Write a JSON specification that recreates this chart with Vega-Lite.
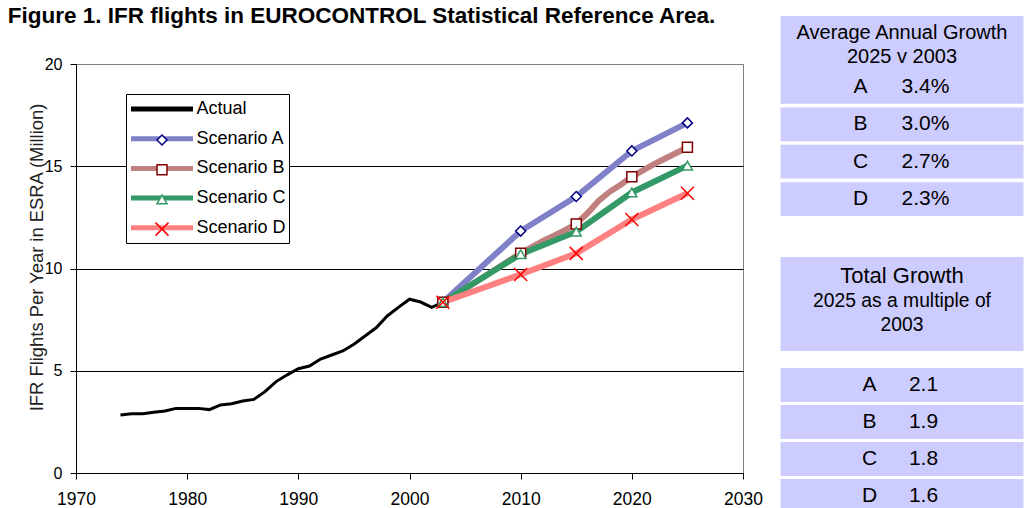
{
  "$schema": "https://vega.github.io/schema/vega-lite/v6.json",
  "background": "white",
  "padding": {"left": 7, "top": 5, "right": 0, "bottom": 0},
  "spacing": 17.5,
  "datasets": {
    "flights": [
      {"year": 1974, "series": "Actual", "value": 2.84},
      {"year": 1975, "series": "Actual", "value": 2.9},
      {"year": 1976, "series": "Actual", "value": 2.9},
      {"year": 1977, "series": "Actual", "value": 2.97},
      {"year": 1978, "series": "Actual", "value": 3.03},
      {"year": 1979, "series": "Actual", "value": 3.16},
      {"year": 1980, "series": "Actual", "value": 3.16},
      {"year": 1981, "series": "Actual", "value": 3.16},
      {"year": 1982, "series": "Actual", "value": 3.1},
      {"year": 1983, "series": "Actual", "value": 3.33},
      {"year": 1984, "series": "Actual", "value": 3.39},
      {"year": 1985, "series": "Actual", "value": 3.52},
      {"year": 1986, "series": "Actual", "value": 3.6},
      {"year": 1987, "series": "Actual", "value": 3.98},
      {"year": 1988, "series": "Actual", "value": 4.47},
      {"year": 1989, "series": "Actual", "value": 4.8},
      {"year": 1990, "series": "Actual", "value": 5.1},
      {"year": 1991, "series": "Actual", "value": 5.23},
      {"year": 1992, "series": "Actual", "value": 5.57},
      {"year": 1993, "series": "Actual", "value": 5.77},
      {"year": 1994, "series": "Actual", "value": 5.97},
      {"year": 1995, "series": "Actual", "value": 6.3},
      {"year": 1996, "series": "Actual", "value": 6.7},
      {"year": 1997, "series": "Actual", "value": 7.1},
      {"year": 1998, "series": "Actual", "value": 7.68},
      {"year": 1999, "series": "Actual", "value": 8.1},
      {"year": 2000, "series": "Actual", "value": 8.5},
      {"year": 2001, "series": "Actual", "value": 8.36},
      {"year": 2002, "series": "Actual", "value": 8.1},
      {"year": 2003, "series": "Actual", "value": 8.35},
      {"year": 2003, "series": "Scenario A", "value": 8.35},
      {"year": 2010, "series": "Scenario A", "value": 11.83},
      {"year": 2015, "series": "Scenario A", "value": 13.52},
      {"year": 2020, "series": "Scenario A", "value": 15.75},
      {"year": 2025, "series": "Scenario A", "value": 17.12},
      {"year": 2003, "series": "Scenario B", "value": 8.35},
      {"year": 2004, "series": "Scenario B", "value": 8.68},
      {"year": 2005, "series": "Scenario B", "value": 9.0},
      {"year": 2006, "series": "Scenario B", "value": 9.35},
      {"year": 2007, "series": "Scenario B", "value": 9.7},
      {"year": 2008, "series": "Scenario B", "value": 10.05},
      {"year": 2009, "series": "Scenario B", "value": 10.4},
      {"year": 2010, "series": "Scenario B", "value": 10.74},
      {"year": 2011, "series": "Scenario B", "value": 11.05},
      {"year": 2012, "series": "Scenario B", "value": 11.35},
      {"year": 2013, "series": "Scenario B", "value": 11.6},
      {"year": 2014, "series": "Scenario B", "value": 11.88},
      {"year": 2015, "series": "Scenario B", "value": 12.18},
      {"year": 2016, "series": "Scenario B", "value": 12.7},
      {"year": 2017, "series": "Scenario B", "value": 13.3},
      {"year": 2018, "series": "Scenario B", "value": 13.75},
      {"year": 2019, "series": "Scenario B", "value": 14.1},
      {"year": 2020, "series": "Scenario B", "value": 14.49},
      {"year": 2021, "series": "Scenario B", "value": 14.8},
      {"year": 2022, "series": "Scenario B", "value": 15.1},
      {"year": 2023, "series": "Scenario B", "value": 15.38},
      {"year": 2024, "series": "Scenario B", "value": 15.65},
      {"year": 2025, "series": "Scenario B", "value": 15.93},
      {"year": 2003, "series": "Scenario C", "value": 8.35},
      {"year": 2010, "series": "Scenario C", "value": 10.7},
      {"year": 2015, "series": "Scenario C", "value": 11.8},
      {"year": 2020, "series": "Scenario C", "value": 13.72},
      {"year": 2025, "series": "Scenario C", "value": 15.03},
      {"year": 2003, "series": "Scenario D", "value": 8.35},
      {"year": 2010, "series": "Scenario D", "value": 9.71},
      {"year": 2015, "series": "Scenario D", "value": 10.74},
      {"year": 2020, "series": "Scenario D", "value": 12.4},
      {"year": 2025, "series": "Scenario D", "value": 13.68}
    ],
    "growth": [
      {"scenario": "A", "figure": "3.4%"},
      {"scenario": "B", "figure": "3.0%"},
      {"scenario": "C", "figure": "2.7%"},
      {"scenario": "D", "figure": "2.3%"}
    ],
    "multiple": [
      {"scenario": "A", "figure": "2.1"},
      {"scenario": "B", "figure": "1.9"},
      {"scenario": "C", "figure": "1.8"},
      {"scenario": "D", "figure": "1.6"}
    ],
    "head1": [
      {"line": 1, "text": "Average Annual Growth"},
      {"line": 2, "text": "2025 v 2003"}
    ],
    "head2": [
      {"line": 1, "text": "Total Growth"},
      {"line": 2, "text": "2025 as a multiple of"},
      {"line": 3, "text": "2003"}
    ]
  },
  "hconcat": [
    {
      "spacing": 0,
      "bounds": "flush",
      "vconcat": [
        {
          "width": 667, "height": 48,
          "data": {"values": [{}]},
          "mark": "text",
          "encoding": {"text": {"value": ""}},
          "title": {
            "text": "Figure 1. IFR flights in EUROCONTROL Statistical Reference Area.",
            "anchor": "start",
            "frame": "group",
            "fontSize": 22.5,
            "fontWeight": "bold",
            "font": "Liberation Sans",
            "color": "black",
            "dx": -68.3,
            "offset": -11.6
          }
        },
        {
          "width": 667,
          "height": 409,
          "data": {"name": "flights"},
          "view": {"stroke": "#808080", "strokeWidth": 1},
          "encoding": {
            "x": {
              "field": "year",
              "type": "quantitative",
              "scale": {"domain": [1970, 2030], "nice": false, "zero": false},
              "axis": {
                "values": [1970, 1980, 1990, 2000, 2010, 2020, 2030],
                "format": "d",
                "title": null,
                "grid": false,
                "labelFlush": false,
                "labelFontSize": 17.5,
                "labelPadding": 11.5,
                "tickSize": 6
              }
            },
            "y": {
              "field": "value",
              "type": "quantitative",
              "scale": {"domain": [0, 20], "nice": false},
              "axis": {
                "values": [0, 5, 10, 15, 20],
                "title": "IFR Flights Per Year in ESRA (Million)",
                "grid": true,
                "gridColor": {"condition": {"test": "datum.value === 20", "value": "#808080"}, "value": "black"},
                "gridWidth": 1,
                "labelFontSize": 16,
                "labelPadding": 8,
                "tickSize": 6,
                "titleFontSize": 18.4,
                "titleFontWeight": "normal",
                "titleColor": "#222222",
                "titlePadding": -2,
                "titleY": 193
              }
            }
          },
          "layer": [
            {
              "transform": [{"filter": "datum.series === 'Actual'"}],
              "mark": {"type": "line", "strokeWidth": 3},
              "encoding": {
                "stroke": {
                  "field": "series",
                  "type": "nominal",
                  "scale": {
                    "domain": ["Actual", "Scenario A", "Scenario B", "Scenario C", "Scenario D"],
                    "range": ["#000000", "#8080c8", "#c08080", "#339966", "#ff8080"]
                  },
                  "legend": {
                    "title": null, "orient": "none", "legendX": 50, "legendY": 78,
                    "padding": 2.5, "clipHeight": 25, "rowPadding": 4.7,
                    "symbolType": "stroke", "symbolSize": 3844, "symbolStrokeWidth": 5,
                    "labelOffset": 1, "labelFontSize": 18, "labelColor": "black",
                    "strokeColor": "black", "fillColor": "white", "zindex": 1
                  }
                }
              }
            },
            {
              "transform": [{"filter": "datum.series !== 'Actual'"}],
              "mark": {"type": "line", "strokeWidth": 6},
              "encoding": {
                "stroke": {
                  "field": "series",
                  "type": "nominal",
                  "scale": {
                    "domain": ["Actual", "Scenario A", "Scenario B", "Scenario C", "Scenario D"],
                    "range": ["#000000", "#8080c8", "#c08080", "#339966", "#ff8080"]
                  },
                  "legend": {
                    "title": null, "orient": "none", "legendX": 50, "legendY": 78,
                    "padding": 2.5, "clipHeight": 25, "rowPadding": 4.7,
                    "symbolType": "stroke", "symbolSize": 3844, "symbolStrokeWidth": 5,
                    "labelOffset": 1, "labelFontSize": 18, "labelColor": "black",
                    "strokeColor": "black", "fillColor": "white", "zindex": 1
                  }
                }
              }
            },
            {
              "transform": [{"filter": "datum.series !== 'Actual' && indexof([2003, 2010, 2015, 2020, 2025], datum.year) >= 0"}],
              "mark": {"type": "point", "filled": false, "fill": "white", "strokeWidth": 1.5, "size": 100, "opacity": 1},
              "encoding": {
                "color": {
                  "field": "series",
                  "type": "nominal",
                  "scale": {
                    "domain": ["Scenario A", "Scenario B", "Scenario C", "Scenario D"],
                    "range": ["#000080", "#800000", "#339966", "#ff0000"]
                  },
                  "legend": {
                    "title": null, "orient": "none", "legendX": 74.5, "legendY": 109,
                    "padding": 2.5, "clipHeight": 25, "rowPadding": 4.7,
                    "symbolSize": 100, "symbolStrokeWidth": 1.5, "symbolFillColor": "white",
                    "labelOpacity": 0, "labelExpr": "''", "labelFontSize": 18, "labelOffset": 1, "zindex": 2
                  }
                },
                "shape": {
                  "field": "series",
                  "type": "nominal",
                  "scale": {
                    "domain": ["Scenario A", "Scenario B", "Scenario C", "Scenario D"],
                    "range": ["diamond", "square", "triangle-up", "M-1.3,-1.3L1.3,1.3M-1.3,1.3L1.3,-1.3"]
                  },
                  "legend": {
                    "title": null, "orient": "none", "legendX": 74.5, "legendY": 109,
                    "padding": 2.5, "clipHeight": 25, "rowPadding": 4.7,
                    "symbolSize": 100, "symbolStrokeWidth": 1.5, "symbolFillColor": "white",
                    "labelOpacity": 0, "labelExpr": "''", "labelFontSize": 18, "labelOffset": 1, "zindex": 2
                  }
                }
              }
            }
          ]
        }
      ]
    },
    {
      "spacing": 0,
      "vconcat": [
        {
          "width": 243, "height": 54,
          "view": {"fill": "#ccccff", "stroke": null},
          "data": {"name": "head1"},
          "mark": {"type": "text", "fontSize": 20, "color": "black"},
          "encoding": {
            "y": {"field": "line", "type": "ordinal", "scale": {"type": "point", "padding": 0, "range": [17, 41]}, "axis": null},
            "text": {"field": "text"}
          }
        },
        {
          "width": 243, "height": 146,
          "data": {"name": "growth"},
          "encoding": {
            "y": {"field": "scenario", "type": "nominal", "sort": null, "scale": {"type": "band", "paddingInner": 0.1, "paddingOuter": 0}, "axis": null}
          },
          "layer": [
            {"mark": {"type": "bar", "color": "#ccccff"}},
            {
              "mark": {"type": "text", "fontSize": 21, "color": "black"},
              "encoding": {
                "x": {"datum": "letter", "type": "nominal", "scale": {"type": "point", "padding": 0, "domain": ["letter", "figure"], "range": [80, 145]}, "axis": null},
                "text": {"field": "scenario"}
              }
            },
            {
              "mark": {"type": "text", "fontSize": 21, "color": "black"},
              "encoding": {
                "x": {"datum": "figure", "type": "nominal", "axis": null},
                "text": {"field": "figure"}
              }
            }
          ]
        },
        {
          "width": 243, "height": 41,
          "data": {"values": [{}]},
          "mark": "text",
          "encoding": {"text": {"value": ""}}
        },
        {
          "width": 243, "height": 94,
          "view": {"fill": "#ccccff", "stroke": null},
          "data": {"name": "head2"},
          "encoding": {
            "y": {"field": "line", "type": "ordinal", "scale": {"type": "point", "padding": 0, "domain": [1, 2, 3], "range": [19, 68]}, "axis": null},
            "text": {"field": "text"}
          },
          "layer": [
            {"transform": [{"filter": "datum.line === 1"}], "mark": {"type": "text", "fontSize": 22, "color": "black"}},
            {"transform": [{"filter": "datum.line > 1"}], "mark": {"type": "text", "fontSize": 19.3, "color": "black"}}
          ]
        },
        {
          "width": 243, "height": 17,
          "data": {"values": [{}]},
          "mark": "text",
          "encoding": {"text": {"value": ""}}
        },
        {
          "width": 243, "height": 145,
          "data": {"name": "multiple"},
          "encoding": {
            "y": {"field": "scenario", "type": "nominal", "sort": null, "scale": {"type": "band", "paddingInner": 0.081, "paddingOuter": 0}, "axis": null}
          },
          "layer": [
            {"mark": {"type": "bar", "color": "#ccccff"}},
            {
              "mark": {"type": "text", "fontSize": 21, "color": "black"},
              "encoding": {
                "x": {"datum": "letter", "type": "nominal", "scale": {"type": "point", "padding": 0, "domain": ["letter", "figure"], "range": [89, 143]}, "axis": null},
                "text": {"field": "scenario"}
              }
            },
            {
              "mark": {"type": "text", "fontSize": 21, "color": "black"},
              "encoding": {
                "x": {"datum": "figure", "type": "nominal", "axis": null},
                "text": {"field": "figure"}
              }
            }
          ]
        }
      ]
    }
  ],
  "config": {
    "font": "Liberation Sans",
    "view": {"stroke": null},
    "axis": {
      "domainColor": "black",
      "tickColor": "black",
      "labelColor": "black",
      "domainWidth": 1,
      "tickWidth": 1
    }
  }
}
